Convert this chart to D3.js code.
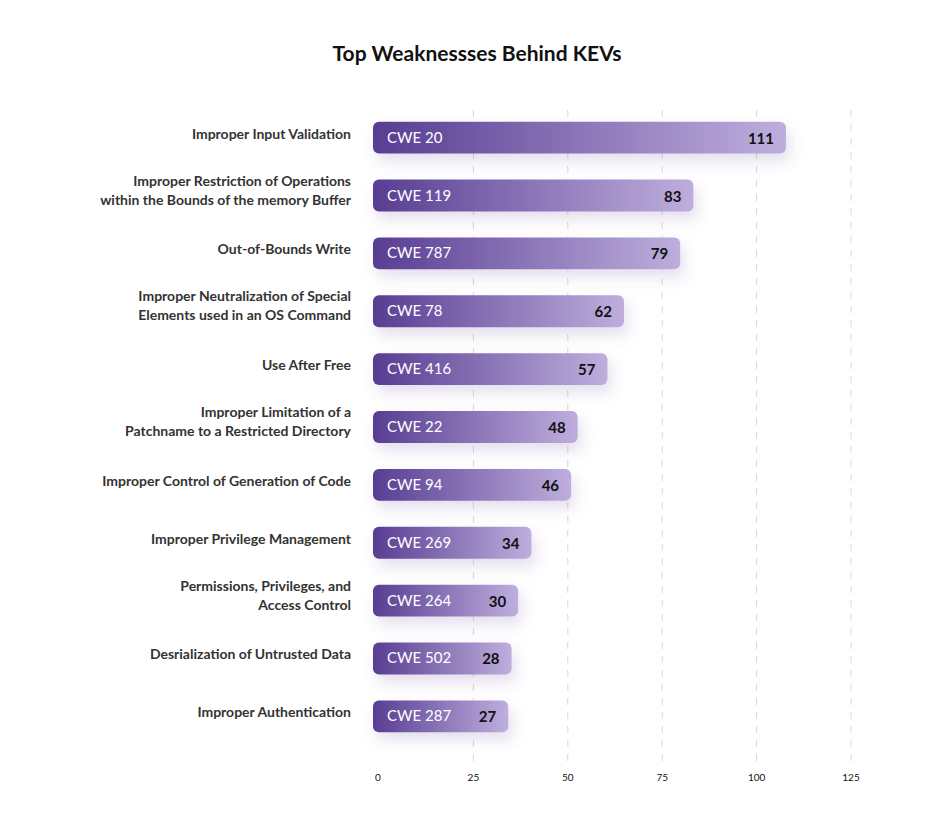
<!DOCTYPE html>
<html><head><meta charset="utf-8">
<script src="https://cdn.jsdelivr.net/npm/d3@7"></script>
<style>body{margin:0;background:#fff}svg{font-family:Lato,sans-serif}</style>
</head><body><svg id="c" width="941" height="823"></svg>
<script>
const categories = [
 ["Improper Input Validation"],
 ["Improper Restriction of Operations","within the Bounds of the memory Buffer"],
 ["Out-of-Bounds Write"],
 ["Improper Neutralization of Special","Elements used in an OS Command"],
 ["Use After Free"],
 ["Improper Limitation of a","Patchname to a Restricted Directory"],
 ["Improper Control of Generation of Code"],
 ["Improper Privilege Management"],
 ["Permissions, Privileges, and","Access Control"],
 ["Desrialization of Untrusted Data"],
 ["Improper Authentication"]
];
const cweIds = ["CWE 20","CWE 119","CWE 787","CWE 78","CWE 416","CWE 22","CWE 94","CWE 269","CWE 264","CWE 502","CWE 287"];
const values = [111,83,79,62,57,48,46,34,30,28,27];
const ticks = [0,25,50,75,100,125];

const svg = d3.select("#c");
const defs = svg.append("defs");
const g = defs.append("linearGradient").attr("id","grad").attr("x1","0").attr("x2","1");
g.append("stop").attr("offset","0").attr("stop-color","#583d92");
g.append("stop").attr("offset","1").attr("stop-color","#beaedd");
const f = defs.append("filter").attr("id","sh").attr("x","-20%").attr("y","-50%").attr("width","140%").attr("height","250%");
f.append("feDropShadow").attr("dx",4).attr("dy",8).attr("stdDeviation",7).attr("flood-color","#6a4fa0").attr("flood-opacity",0.18);
const fa = defs.append("filter").attr("id","ash").attr("x","-10%").attr("y","-10%").attr("width","120%").attr("height","120%");
fa.append("feDropShadow").attr("dx",0).attr("dy",2).attr("stdDeviation",1.5).attr("flood-color","#000").attr("flood-opacity",0.2);

svg.append("text").attr("x",477).attr("y",61).attr("text-anchor","middle")
  .attr("font-size",21).attr("font-weight",700).attr("fill","#111").text("Top Weaknessses Behind KEVs");

const x = d3.scaleLinear().domain([0,125]).range([385,857]);
const bw = d3.scaleLinear().domain([0,111]).range([46,413]);
const y = d3.scaleBand().domain(d3.range(values.length)).range([109,745]).paddingInner(0.45).paddingOuter(0.22);

// grid
svg.selectAll(".grid").data(ticks.slice(1)).join("line")
  .attr("x1",d=>x(d)-6).attr("x2",d=>x(d)-6).attr("y1",110).attr("y2",762)
  .attr("stroke","#d8d8d8").attr("stroke-dasharray","7,7");

// axes
svg.append("line").attr("x1",327).attr("x2",890).attr("y1",766).attr("y2",766).attr("stroke","#888").attr("stroke-width",1.5).attr("filter","url(#ash)");
svg.append("line").attr("x1",373).attr("x2",373).attr("y1",110).attr("y2",800).attr("stroke","#999").attr("stroke-width",1.5).attr("filter","url(#ash)");
svg.selectAll(".tick").data(ticks).join("text")
  .attr("x",(d,i)=>i===0?378:x(d)-6).attr("y",781).attr("text-anchor",(d,i)=>i===0?"middle":"middle")
  .attr("font-size",10).attr("fill","#111").text(d=>d);

const rows = svg.selectAll(".row").data(values).join("g").attr("transform",(d,i)=>`translate(0,${y(i)})`);
const h = y.bandwidth();
rows.append("rect").attr("x",373).attr("y",0).attr("width",d=>bw(d)).attr("height",h)
  .attr("rx",6).attr("fill","url(#grad)").attr("filter","url(#sh)");
rows.append("text").attr("x",387).attr("y",h/2+5).attr("font-size",15).attr("fill","#fff").text((d,i)=>cweIds[i]);
rows.append("text").attr("x",d=>373+bw(d)-12).attr("y",h/2+6).attr("text-anchor","end")
  .attr("font-size",15).attr("font-weight",700).attr("fill","#111").text(d=>d);
rows.each(function(d,i){
  const lines = categories[i];
  const t = d3.select(this).append("text").attr("text-anchor","end").attr("font-size",14)
    .attr("font-weight",700).attr("fill","#333");
  const y0 = lines.length===1 ? h/2+1 : h/2-10;
  lines.forEach((l,j)=>t.append("tspan").attr("x",351).attr("y",y0+j*19).text(l));
});
</script></body></html>
